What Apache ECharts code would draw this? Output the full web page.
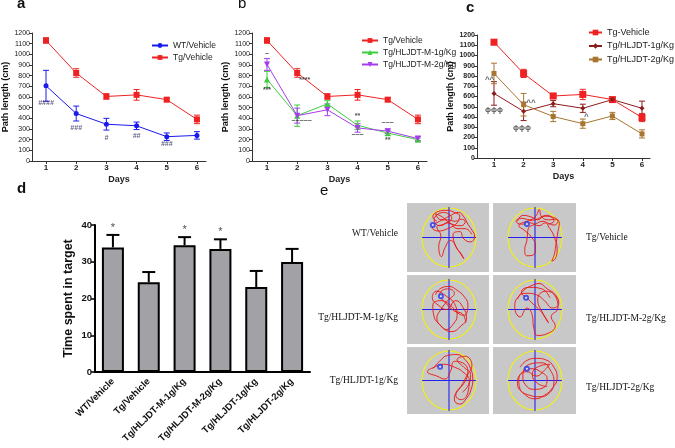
<!DOCTYPE html>
<html><head><meta charset="utf-8">
<script src="https://cdn.jsdelivr.net/npm/echarts@6/dist/echarts.min.js"></script>
<style>html,body{margin:0;padding:0;background:#fff}#c{width:675px;height:448px}</style>
</head><body><div id="c"></div>
<script>
// ---------- data ----------
const days = [1, 2, 3, 4, 5, 6];

const wtVeh = [705, 445, 345, 330, 228, 240];
const wtVehErr = [145, 70, 55, 35, 35, 35];
const tgVeh = [1130, 825, 605, 620, 575, 390];
const tgVehErr = [25, 40, 25, 50, 18, 40];

const m1g = [765, 425, 535, 335, 262, 200];
const m1gErr = [75, 100, 30, 40, 25, 15];
const m2g = [905, 425, 480, 310, 280, 210];
const m2gErr = [55, 70, 55, 40, 20, 20];

const tgVehC = [1130, 825, 605, 620, 570, 395];
const tgVehCErr = [25, 40, 25, 50, 15, 40];
const h1g = [630, 455, 530, 485, 570, 485];
const h1gErr = [115, 90, 30, 40, 12, 70];
const h2g = [825, 520, 405, 335, 410, 235];
const h2gErr = [100, 110, 50, 45, 35, 40];

const annA = [[1, 540, '####'], [2, 305, '###'], [3, 217, '#'], [4, 236, '##'], [5, 157, '###']];
const annB = [[1, 1005, '~'], [1, 665, '***'], [2.25, 760, '****'], [2.15, 376, '~~~~~'],
              [4, 420, '**'], [4, 241, '~~~'], [5, 351, '~~~'], [5, 194, '**']];
const annC = [[0.85, 763, '^^'], [1, 470, 'ϕϕϕ'], [2.25, 535, '^^'], [1.95, 292, 'ϕϕϕ'], [4.12, 405, '^']];

const groups = ['WT/Vehicle', 'Tg/Vehicle', 'Tg/HLJDT-M-1g/Kg', 'Tg/HLJDT-M-2g/Kg', 'Tg/HLJDT-1g/Kg', 'Tg/HLJDT-2g/Kg'];
const timeTarget = [33.9, 24.4, 34.5, 33.5, 23.1, 29.9];
const timeErr = [3.4, 2.8, 2.2, 2.6, 4.4, 3.6];
const timeSig = ['*', '', '*', '*', '', ''];

// swim tracks (normalised pool coordinates, -1..1)
const track1 = [[-0.45,0.55],[-0.6,0.7],[-0.4,0.88],[-0.1,0.92],[0.2,0.85],[0.4,0.72],[0.25,0.55],[-0.1,0.6],[-0.45,0.5],[-0.62,0.35],[-0.4,0.22],[-0.05,0.3],[0.25,0.45],[0.45,0.62],[0.6,0.55],[0.45,0.4],[0.1,0.45],[-0.25,0.7],[-0.5,0.8],[-0.3,0.6],[0.0,0.72],[0.35,0.85],[0.55,0.7],[0.7,0.45],[0.85,0.25],[0.95,0.05],[0.8,-0.15],[0.55,-0.05],[0.4,0.2],[0.15,0.1],[0.25,-0.3],[0.45,-0.55],[0.55,-0.72],[0.35,-0.45],[0.05,-0.1],[-0.15,-0.35],[-0.28,-0.65],[-0.38,-0.3],[-0.3,0.05],[-0.45,0.35],[-0.2,0.45],[0.1,0.65],[-0.2,0.85],[-0.55,0.6],[-0.35,0.4],[0.0,0.5],[0.3,0.3],[0.6,0.3],[0.85,0.1]];
const track2 = [[-0.65,0.55],[-0.45,0.75],[-0.15,0.7],[0.1,0.6],[0.35,0.72],[0.6,0.7],[0.85,0.55],[0.7,0.42],[0.4,0.5],[0.15,0.4],[-0.2,0.5],[-0.5,0.45],[-0.7,0.55],[-0.5,0.65],[-0.2,0.6],[0.05,0.75],[0.15,0.95],[0.25,0.7],[0.5,0.6],[0.75,0.62],[0.9,0.48],[0.85,0.2],[0.78,-0.2],[0.72,-0.55],[0.62,-0.8],[0.75,-0.72],[0.82,-0.4],[0.72,0.0],[0.55,0.3],[0.3,0.55],[0.0,0.45],[-0.25,0.3],[-0.3,-0.1],[-0.38,-0.4],[-0.3,-0.62],[-0.08,-0.6],[0.02,-0.3],[-0.12,0.0],[-0.4,0.25],[-0.6,0.4],[-0.3,0.55],[0.0,0.6],[0.45,0.75],[0.7,0.55],[0.5,0.45]];
const track3 = [[-0.5,0.5],[-0.3,0.72],[0.0,0.78],[0.3,0.65],[0.55,0.45],[0.7,0.15],[0.55,-0.2],[0.3,-0.1],[0.05,0.15],[-0.3,0.3],[-0.6,0.15],[-0.55,-0.25],[-0.35,-0.5],[-0.1,-0.68],[0.15,-0.5],[0.3,-0.2],[0.2,0.2],[-0.1,0.45],[-0.45,0.62],[-0.62,0.4],[-0.4,0.15],[-0.1,0.0],[0.25,0.3],[0.5,0.1],[0.65,-0.3],[0.45,-0.55],[0.1,-0.75],[-0.25,-0.6],[-0.45,-0.3],[-0.3,0.0],[-0.05,0.3],[0.2,0.55],[-0.05,0.7],[-0.35,0.5],[-0.15,0.25],[0.2,-0.05],[0.5,-0.15],[0.62,-0.45]];
const track4 = [[-0.65,0.35],[-0.45,0.62],[-0.15,0.8],[0.15,0.88],[0.45,0.7],[0.75,0.5],[0.88,0.2],[0.65,0.05],[0.35,0.3],[0.05,0.5],[-0.3,0.55],[-0.6,0.45],[-0.75,0.1],[-0.55,-0.25],[-0.3,0.05],[-0.1,-0.2],[-0.05,-0.6],[0.1,-0.88],[0.45,-0.82],[0.75,-0.55],[0.6,-0.25],[0.85,0.05],[0.75,0.45],[0.4,0.62],[0.1,0.35],[0.3,-0.15],[0.5,-0.45],[0.25,-0.1],[-0.2,0.3],[-0.5,0.6],[-0.2,0.75],[0.25,0.7],[0.55,0.4]];
const track5 = [[-0.6,0.4],[-0.35,0.65],[-0.05,0.85],[0.3,0.88],[0.6,0.7],[0.8,0.4],[0.88,0.05],[0.82,-0.3],[0.65,-0.6],[0.4,-0.8],[0.2,-0.65],[0.3,-0.35],[0.55,-0.1],[0.7,0.3],[0.5,0.6],[0.2,0.65],[0.05,0.3],[-0.15,0.05],[-0.45,0.15],[-0.8,0.3],[-0.55,0.45],[-0.2,0.55],[0.2,0.45],[0.5,0.3],[0.75,0.0],[0.7,-0.4],[0.45,-0.65],[0.25,-0.5],[0.45,-0.2],[0.65,0.15],[0.85,0.5],[0.6,0.82],[0.3,0.7],[0.55,0.45],[0.8,0.2],[0.72,-0.15],[0.5,-0.4]];
const track6 = [[-0.55,0.45],[-0.3,0.68],[0.05,0.75],[0.4,0.7],[0.7,0.45],[0.82,0.1],[0.65,-0.25],[0.35,-0.5],[0.0,-0.62],[-0.4,-0.45],[-0.65,-0.1],[-0.5,0.25],[-0.15,0.4],[0.2,0.3],[0.45,0.05],[0.3,-0.25],[-0.05,-0.3],[-0.35,-0.15],[-0.45,0.15],[-0.2,0.55],[0.25,0.6],[0.6,0.3],[0.7,-0.05],[0.5,-0.45],[0.15,-0.55],[-0.2,-0.5],[-0.55,-0.3],[-0.6,0.05],[-0.3,0.3],[0.05,0.15],[0.35,0.35],[0.55,0.55],[0.2,0.5],[-0.1,0.2],[0.1,-0.1],[0.45,-0.2]];
const tracks = [track1, track2, track3, track4, track5, track6];
const platforms = [[-0.6,0.42],[-0.3,0.46],[-0.3,0.45],[-0.33,0.4],[-0.33,0.47],[-0.3,0.4]];
const trackLabels = ['WT/Vehicle', 'Tg/Vehicle', 'Tg/HLJDT-M-1g/Kg', 'Tg/HLJDT-M-2g/Kg', 'Tg/HLJDT-1g/Kg', 'Tg/HLJDT-2g/Kg'];

// ---------- layout ----------
const C = {blue:'#1a1aee', red:'#ee2222', green:'#3fcc3f', purple:'#a63cee', dred:'#8c1c1c', brown:'#a87530'};
const FONT = 'Liberation Sans, Arial, sans-serif';
const lineGrids = [
  {left:32, top:33, width:174, height:128, min:0.536, max:6.3, boldY:false},
  {left:252, top:33, width:175, height:128, min:0.503, max:6.3, boldY:false},
  {left:477, top:35, width:173, height:123, min:0.426, max:6.27, boldY:true}
];
const poolCenters = [[449,237.5],[535,237.5],[449,309.5],[535,309.5],[449,380.5],[535,380.5]];
const poolRx = 27, poolRy = 29.5;

const grids = [], xAxes = [], yAxes = [], series = [];
lineGrids.forEach((g, i) => {
  grids.push({left:g.left, top:g.top, width:g.width, height:g.height});
  xAxes.push({type:'value', gridIndex:i, min:g.min, max:g.max,
    axisLine:{onZero:false, lineStyle:{color:'#333', width:1}},
    axisTick:{customValues:days, length:3, lineStyle:{color:'#333'}},
    axisLabel:{customValues:days, fontSize:8, fontWeight:'bold', color:'#222', margin:3, fontFamily:FONT},
    splitLine:{show:false},
    name:'Days', nameLocation:'middle', nameGap:14,
    nameTextStyle:{fontWeight:'bold', fontSize:9, color:'#222', fontFamily:FONT}});
  yAxes.push({type:'value', gridIndex:i, min:0, max:1200, interval:100,
    axisLine:{show:true, lineStyle:{color:'#333', width:1}},
    axisTick:{show:true, length:3, lineStyle:{color:'#333'}},
    axisLabel:{fontSize:7, margin:2, color:'#222', fontWeight:g.boldY?'bold':'normal', fontFamily:FONT,
      formatter:v => String(v)},
    splitLine:{show:false},
    name:'Path length (cm)', nameLocation:'middle', nameGap:22,
    nameTextStyle:{fontWeight:'bold', fontSize:9, color:'#111', fontFamily:FONT}});
});

function errRender(color, capW, width, upOnly) {
  return function (params, api) {
    const x = api.value(0), y = api.value(1), e = api.value(2);
    const top = api.coord([x, y + e]);
    const bot = api.coord([x, upOnly ? y : y - e]);
    const st = {stroke:color, lineWidth:width};
    const ch = [{type:'line', shape:{x1:top[0], y1:top[1], x2:bot[0], y2:bot[1]}, style:st},
                {type:'line', shape:{x1:top[0]-capW/2, y1:top[1], x2:top[0]+capW/2, y2:top[1]}, style:st}];
    if (!upOnly) ch.push({type:'line', shape:{x1:bot[0]-capW/2, y1:bot[1], x2:bot[0]+capW/2, y2:bot[1]}, style:st});
    return {type:'group', children:ch};
  };
}
function addLine(gi, name, vals, errs, color, symbol, size, rot) {
  series.push({type:'custom', xAxisIndex:gi, yAxisIndex:gi, renderItem:errRender(color, 6, 1, false),
    data:days.map((d, i) => [d, vals[i], errs[i]]), z:2, silent:true});
  series.push({type:'line', name:name, xAxisIndex:gi, yAxisIndex:gi,
    data:days.map((d, i) => [d, vals[i]]), symbol:symbol, symbolSize:size, symbolRotate:rot||0,
    lineStyle:{color:color, width:1}, itemStyle:{color:color}, z:3, animation:false});
}
function addAnn(gi, ann, color, fs, italic) {
  series.push({type:'scatter', xAxisIndex:gi, yAxisIndex:gi, symbolSize:1, itemStyle:{color:'rgba(0,0,0,0)'},
    data:ann, silent:true, z:5,
    label:{show:true, position:'inside', formatter:p => p.value[2], fontSize:fs, color:color,
      fontStyle:italic?'italic':'normal', fontWeight:'bold', fontFamily:FONT}});
}

addLine(0, 'WT/Vehicle', wtVeh, wtVehErr, C.blue, 'circle', 5);
addLine(0, 'Tg/Vehicle', tgVeh, tgVehErr, C.red, 'rect', 6);
addAnn(0, annA, '#3a3a66', 7, true);

addLine(1, 'Tg/Vehicle ', tgVeh, tgVehErr, C.red, 'rect', 6);
addLine(1, 'Tg/HLJDT-M-1g/Kg', m1g, m1gErr, C.green, 'triangle', 6);
addLine(1, 'Tg/HLJDT-M-2g/Kg', m2g, m2gErr, C.purple, 'triangle', 6, 180);
addAnn(1, annB, '#222', 7, false);

addLine(2, 'Tg-Vehicle', tgVehC, tgVehCErr, C.red, 'rect', 7);
addLine(2, 'Tg/HLJDT-1g/Kg', h1g, h1gErr, C.dred, 'diamond', 5);
addLine(2, 'Tg/HLJDT-2g/Kg', h2g, h2gErr, C.brown, 'rect', 5);
addAnn(2, annC, '#333', 8, false);

// panel d
grids.push({left:95, top:225, width:215, height:147});
xAxes.push({type:'category', gridIndex:3, data:groups,
  axisLine:{lineStyle:{color:'#000', width:2}},
  axisTick:{alignWithLabel:true, length:4, lineStyle:{color:'#000', width:1.5}},
  axisLabel:{rotate:45, interval:0, fontSize:9.5, fontWeight:'bold', color:'#111', margin:8, fontFamily:FONT}});
yAxes.push({type:'value', gridIndex:3, min:0, max:40, interval:10,
  axisLine:{show:true, lineStyle:{color:'#000', width:2}},
  axisTick:{show:true, length:4, lineStyle:{color:'#000', width:1.5}},
  axisLabel:{fontSize:9.5, fontWeight:'bold', color:'#111', margin:3, fontFamily:FONT},
  splitLine:{show:false},
  name:'Time spent in target', nameLocation:'middle', nameGap:20,
  nameTextStyle:{fontWeight:'bold', fontSize:12.5, color:'#111', fontFamily:FONT}});
series.push({type:'bar', xAxisIndex:3, yAxisIndex:3, data:timeTarget, barWidth:22,
  itemStyle:{color:'#a2a2a6', borderColor:'#000', borderWidth:2}, z:2, animation:false});
series.push({type:'custom', xAxisIndex:3, yAxisIndex:3, renderItem:errRender('#000', 13, 2, true),
  data:timeTarget.map((v, i) => [i, v, timeErr[i]]), z:3, silent:true});
series.push({type:'scatter', xAxisIndex:3, yAxisIndex:3, symbolSize:1, itemStyle:{color:'rgba(0,0,0,0)'},
  data:timeTarget.map((v, i) => [i, v + timeErr[i] + 2.0, timeSig[i]]), silent:true, z:5,
  label:{show:true, position:'inside', formatter:p => p.value[2], fontSize:11, color:'#222', fontFamily:FONT}});

// panel e pools
const graphic = [];
const cellX = [[407,489],[493,576]], cellY = [[203,272],[275,344],[347,414]];
for (let r = 0; r < 3; r++) for (let c = 0; c < 2; c++) {
  graphic.push({type:'rect', shape:{x:cellX[c][0], y:cellY[r][0], width:cellX[c][1]-cellX[c][0], height:cellY[r][1]-cellY[r][0]},
    style:{fill:'#c8c8c8'}, z:-10});
}
poolCenters.forEach((p, k) => {
  const gi = 4 + k;
  grids.push({left:p[0]-poolRx, top:p[1]-poolRy, width:poolRx*2, height:poolRy*2});
  xAxes.push({type:'value', gridIndex:gi, min:-1, max:1, show:false});
  yAxes.push({type:'value', gridIndex:gi, min:-1, max:1, show:false});
  graphic.push({type:'circle', x:p[0], y:p[1], scaleY:poolRy/poolRx, shape:{cx:0, cy:0, r:poolRx},
    style:{fill:'none', stroke:'#f2f20a', lineWidth:1.1}, z:-5});
  graphic.push({type:'line', shape:{x1:p[0]-poolRx, y1:p[1], x2:p[0]+poolRx, y2:p[1]}, style:{stroke:'#2222ee', lineWidth:1.1}, z:-4});
  graphic.push({type:'line', shape:{x1:p[0], y1:p[1]-poolRy-1, x2:p[0], y2:p[1]+poolRy+1}, style:{stroke:'#2222ee', lineWidth:1.1}, z:-4});
  series.push({type:'line', xAxisIndex:gi, yAxisIndex:gi, data:tracks[k], smooth:0.5, symbol:'none',
    lineStyle:{color:'#ee1111', width:0.9}, silent:true, z:3, animation:false});
  series.push({type:'scatter', xAxisIndex:gi, yAxisIndex:gi, data:[platforms[k]], symbol:'emptyCircle', symbolSize:4,
    itemStyle:{color:'#2233ee', borderWidth:0.8}, silent:true, z:4});
});
const SERIF = 'Liberation Serif, Times New Roman, serif';
const eLab = [[398,233,'right'],[586,237,'left'],[398,317,'right'],[586,318,'left'],[398,380,'right'],[586,387,'left']];
eLab.forEach((l, k) => graphic.push({type:'text', x:l[0], y:l[1],
  style:{text:trackLabels[k], font:'9.5px ' + SERIF, fill:'#111', align:l[2], verticalAlign:'middle'}}));

// panel letters
[['a',17,11,'bold'],['b',238,11,'normal'],['c',466,15,'bold'],['d',17,196,'bold'],['e',320,198,'normal']].forEach(l =>
  graphic.push({type:'text', x:l[1], y:l[2], style:{text:l[0], font:l[3] + ' 15px ' + FONT, fill:'#111', verticalAlign:'bottom'}}));

const legendBase = {orient:'vertical', itemWidth:16, itemHeight:6, textStyle:{fontSize:8.5, color:'#222', fontFamily:FONT}, selectedMode:false};
const option = {
  backgroundColor:'#fff', animation:false,
  grid:grids, xAxis:xAxes, yAxis:yAxes, series:series, graphic:graphic,
  legend:[
    Object.assign({}, legendBase, {left:146, top:36, itemGap:3, data:['WT/Vehicle','Tg/Vehicle']}),
    Object.assign({}, legendBase, {left:356, top:31, itemGap:3, data:['Tg/Vehicle ','Tg/HLJDT-M-1g/Kg','Tg/HLJDT-M-2g/Kg']}),
    Object.assign({}, legendBase, {left:588, top:28, itemGap:4.5, itemWidth:13, itemHeight:7, itemTextGap:4, padding:0,
      textStyle:{fontSize:9, color:'#222', fontFamily:FONT, overflow:'none'},
      data:['Tg-Vehicle','Tg/HLJDT-1g/Kg','Tg/HLJDT-2g/Kg']})
  ]
};
const chart = echarts.init(document.getElementById('c'), null, {renderer:'canvas'});
chart.setOption(option);
</script></body></html>
